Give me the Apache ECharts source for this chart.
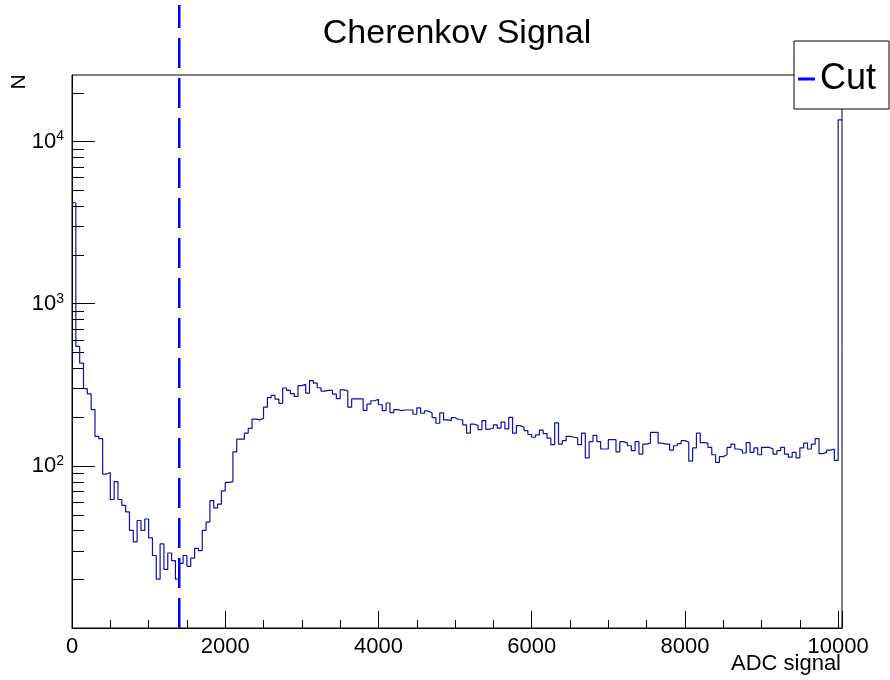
<!DOCTYPE html>
<html><head><meta charset="utf-8">
<script src="https://cdn.jsdelivr.net/npm/echarts@6/dist/echarts.min.js"></script>
<style>html,body{margin:0;padding:0;background:#fff}#c{width:890px;height:680px}</style>
</head><body><div id="c"></div>
<script>
// ---- data ----
const binStart = 0;
const binWidth = 50;
const counts = [
 4190,545,430,299,278,222,152,147,89,91,
 62,80,62,57,52,40,34,46,40,47,
 36,28,20,33,23,29,26,20,25,28,
 24,27,31,30,40,45,61,55,58,70,
 79,80,122,146,146,159,170,194,192,196,
 230,263,272,258,243,302,292,279,268,312,
 318,281,335,324,303,289,292,292,277,260,
 294,290,230,259,259,259,220,240,252,257,
 238,219,244,213,222,219,221,221,221,208,
 228,211,218,212,198,183,212,192,190,198,
 193,192,179,159,181,177,167,190,168,171,
 179,171,186,169,199,159,177,173,165,156,
 150,155,166,158,148,135,184,136,143,152,
 150,149,135,159,112,141,154,141,127,127,
 145,145,122,141,138,133,124,141,118,136,
 138,161,161,138,136,136,125,133,137,143,
 140,107,129,159,139,138,130,117,105,114,
 117,130,136,127,125,120,139,121,129,117,
 130,130,127,118,124,130,118,113,121,112,
 129,138,127,136,147,119,121,125,127,108,
 13600
];
const cutValue = 1400;
const cutLineSpan = [10, 70000];
const xRange = [0, 10050];
const xTickLabels = [0, 2000, 4000, 6000, 8000, 10000];
const yRange = [10, 25700];
const yDecadeLabels = [100, 1000, 10000];
const yMinorTicks = [20,30,40,50,60,70,80,90,200,300,400,500,600,700,800,900,
  2000,3000,4000,5000,6000,7000,8000,9000,20000];
const titleText = 'Cherenkov Signal';
const xTitle = 'ADC signal';
const yTitle = 'N';
const legendName = 'Cut';

// ---- build ----
const FONT = '"Liberation Sans", Arial, Helvetica, sans-serif';
const histData = counts.map((c, i) => [binStart + i * binWidth, c]);
histData.push([binStart + counts.length * binWidth, counts[counts.length - 1]]);

const chart = echarts.init(document.getElementById('c'), null, {renderer: 'canvas'});
chart.setOption({
  animation: false,
  backgroundColor: '#fff',
  textStyle: {fontFamily: FONT},
  title: {
    text: titleText, left: 452, textAlign: 'center', top: 12,
    textStyle: {fontSize: 34, fontWeight: 'normal', color: '#000', fontFamily: FONT}
  },
  legend: {
    data: [{name: legendName, icon: 'rect'}],
    left: 794, top: 41, orient: 'vertical',
    padding: [20, 13, 12, 4],
    itemWidth: 17, itemHeight: 3,
    borderColor: '#000', borderWidth: 1, borderRadius: 0,
    backgroundColor: '#fff', selectedMode: false,
    textStyle: {fontSize: 36, color: '#000', fontFamily: FONT}
  },
  grid: [
    {left: 72, right: 48, top: 75, bottom: 52, show: true, borderColor: '#000', borderWidth: 1, backgroundColor: 'rgba(0,0,0,0)'},
    {left: 72, right: 48, top: 5, bottom: 52, show: false}
  ],
  xAxis: [
    {
      type: 'value', gridIndex: 0, min: xRange[0], max: xRange[1], interval: 2000,
      axisLine: {show: true, lineStyle: {color: '#000', width: 1}},
      axisTick: {show: true, inside: true, length: 17, lineStyle: {color: '#000'}},
      minorTick: {show: true, splitNumber: 4, length: 8, lineStyle: {color: '#000'}},
      axisLabel: {
        fontSize: 22, color: '#000', fontFamily: FONT, margin: 8,
        formatter: v => xTickLabels.indexOf(v) >= 0 ? String(v) : ''
      },
      splitLine: {show: false}, minorSplitLine: {show: false}
    },
    {type: 'value', gridIndex: 1, min: xRange[0], max: xRange[1], show: false}
  ],
  yAxis: [
    {
      type: 'log', logBase: 10, gridIndex: 0, min: yRange[0], max: yRange[1],
      axisLine: {show: true, lineStyle: {color: '#000', width: 1}},
      axisTick: {show: true, inside: true, length: 23, lineStyle: {color: '#000'}},
      minorTick: {show: false},
      axisLabel: {
        color: '#000', margin: 8, showMinLabel: false, showMaxLabel: false,
        formatter: v => {
          const e = Math.log10(v);
          const r = Math.round(e);
          if (Math.abs(e - r) < 1e-6 && yDecadeLabels.indexOf(Math.pow(10, r)) >= 0) {
            return '{b|10}{s|' + r + '}';
          }
          return '';
        },
        rich: {
          b: {fontSize: 22, fontFamily: FONT, color: '#000', lineHeight: 24},
          s: {fontSize: 14, fontFamily: FONT, color: '#000', verticalAlign: 'top', lineHeight: 14}
        }
      },
      splitLine: {show: false}
    },
    {type: 'log', logBase: 10, gridIndex: 1, min: cutLineSpan[0], max: cutLineSpan[1], show: false}
  ],
  graphic: [
    {type: 'text', x: 19, y: 82, rotation: Math.PI / 2,
     style: {text: yTitle, font: '21px ' + FONT, fill: '#000', align: 'center', verticalAlign: 'middle'}},
    {type: 'text', x: 841, y: 664,
     style: {text: xTitle, font: '22px ' + FONT, fill: '#000', align: 'right', verticalAlign: 'middle'}}
  ],
  series: [
    {
      name: 'hist', type: 'line', xAxisIndex: 0, yAxisIndex: 0,
      data: histData, step: 'end', symbol: 'none',
      lineStyle: {color: '#1010a8', width: 1.2}, z: 3
    },
    {
      name: 'minorTicks', type: 'custom', xAxisIndex: 0, yAxisIndex: 0, silent: true, z: 1,
      data: yMinorTicks.map(v => [xRange[0], v]),
      renderItem: (params, api) => {
        const p = api.coord([api.value(0), api.value(1)]);
        const y = Math.round(p[1]) + 0.5;
        return {type: 'line', shape: {x1: p[0], y1: y, x2: p[0] + 12, y2: y},
                style: {stroke: '#000', lineWidth: 1}};
      }
    },
    {
      name: legendName, type: 'line', xAxisIndex: 1, yAxisIndex: 1,
      data: [[cutValue, cutLineSpan[0]], [cutValue, cutLineSpan[1]]],
      symbol: 'none', color: '#0000ff', itemStyle: {color: '#0000ff'},
      lineStyle: {color: '#0000ff', width: 2.5, type: [30, 10]}, z: 4
    }
  ]
});
</script></body></html>
